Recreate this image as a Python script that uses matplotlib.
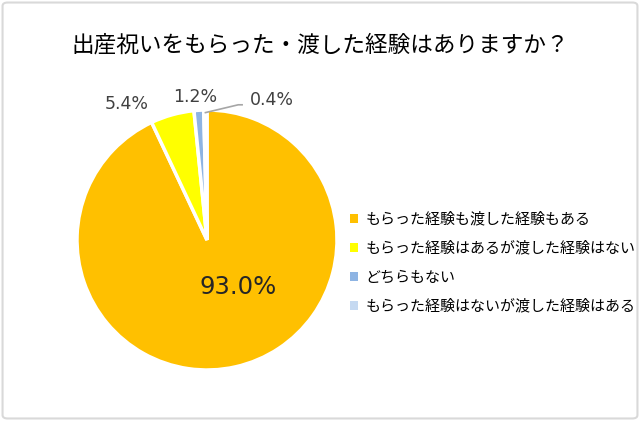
import matplotlib
matplotlib.use("Agg")
import matplotlib.pyplot as plt
from matplotlib.patches import Patch, FancyBboxPatch
import numpy as np

plt.rcParams['font.family'] = ['Noto Sans CJK JP', 'DejaVu Sans']

title = "出産祝いをもらった・渡した経験はありますか？"
categories = ["もらった経験も渡した経験もある",
              "もらった経験はあるが渡した経験はない",
              "どちらもない",
              "もらった経験はないが渡した経験はある"]
values = [93.0, 5.4, 1.2, 0.4]
colors = ["#FFC000", "#FFFF00", "#8EB4E3", "#C5D9F1"]

W, H = 640, 421
fig = plt.figure(figsize=(W / 100, H / 100), dpi=100)

# border
fig.patches.append(FancyBboxPatch((0.004, 0.006), 0.992, 0.988, boxstyle="round,pad=0,rounding_size=0.008",
                                  transform=fig.transFigure, fill=False, edgecolor="#D9D9D9", linewidth=1.5))

cx, cy, r = 207, 240, 130
ax = fig.add_axes([(cx - r) / W, (H - cy - r) / H, 2 * r / W, 2 * r / H])
wedges, _ = ax.pie(values, colors=colors, startangle=90, counterclock=False,
                   wedgeprops=dict(edgecolor="white", linewidth=2.5), radius=1)
ax.set_xlim(-1, 1)
ax.set_ylim(-1, 1)
ax.set_aspect("equal")
ax.axis("off")

fig.text(0.5, (H - 45) / H, title, ha="center", va="center", fontsize=16.3, color="#000000")

labels = [f"{v:.1f}%" for v in values]
label_pos = [(0.24, -0.36), (-0.615, 1.05), (-0.09, 1.10), (0.50, 1.08)]
sizes = [17.5, 12.5, 12.5, 12.5]
for i, (lab, pos) in enumerate(zip(labels, label_pos)):
    ax.text(pos[0], pos[1], lab, ha="center", va="center", fontsize=sizes[i],
            family=['DejaVu Sans'], color="#262626" if i == 0 else "#404040", clip_on=False)

# leader line for smallest slice
w = wedges[3]
ang = np.deg2rad((w.theta1 + w.theta2) / 2)
x0, y0 = np.cos(ang) * 0.98, np.sin(ang) * 0.98
ax.plot([x0, 0.24, 0.27], [y0, 1.04, 1.04], color="#A6A6A6", lw=1.2, clip_on=False)

handles = [Patch(facecolor=c, edgecolor="none") for c in colors]
leg = fig.legend(handles, categories, loc="upper left", bbox_to_anchor=(350 / W, (H - 212) / H),
                 frameon=False, fontsize=10.8, handlelength=0.55, handleheight=0.55,
                 handletextpad=0.5, labelspacing=0.98, borderaxespad=0, borderpad=0)
for t in leg.get_texts():
    t.set_color("#000000")

fig.savefig("out.png", dpi=100)
